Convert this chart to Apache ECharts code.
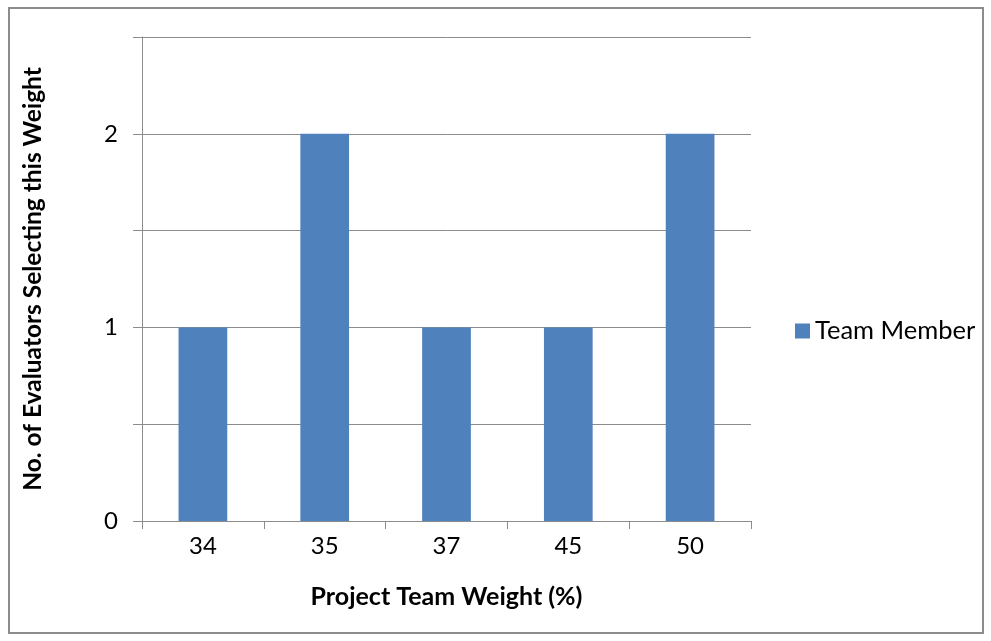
<!DOCTYPE html>
<html>
<head>
<meta charset="utf-8">
<script src="https://cdn.jsdelivr.net/npm/echarts@6/dist/echarts.min.js"></script>
<style>
  html, body { margin: 0; padding: 0; background: #fff; }
  #frame { position: absolute; left: 8px; top: 7px; width: 976px; height: 627px; border: 2px solid #8c8c8c; box-sizing: border-box; }
  #chart { position: absolute; left: 0; top: 0; width: 991px; height: 641px; }
</style>
</head>
<body>
<div id="frame"></div>
<div id="chart"></div>
<script>
// Project team weight choices and how many evaluators picked each
const weights = ['34', '35', '37', '45', '50'];
const evaluatorCounts = [1, 2, 1, 1, 2];
const seriesName = 'Team Member';
const yTickLabels = [0, 1, 2];

const FONT = 'Lato, "Open Sans", sans-serif';
const chart = echarts.init(document.getElementById('chart'), null, { renderer: 'canvas' });

chart.setOption({
  animation: false,
  backgroundColor: 'transparent',
  grid: { left: 142, top: 37, right: 240, bottom: 120, containLabel: false },
  legend: {
    data: [seriesName],
    left: 790, top: 313,
    icon: 'rect',
    itemWidth: 15, itemHeight: 15, itemGap: 4,
    textStyle: { fontFamily: FONT, fontSize: 25.5, color: '#000' }
  },
  xAxis: {
    type: 'category',
    data: weights,
    name: 'Project Team Weight (%)',
    nameLocation: 'middle',
    nameGap: 63,
    nameTextStyle: { fontFamily: FONT, fontSize: 25, fontWeight: 'bold', color: '#000' },
    axisLine: { lineStyle: { color: '#8c8c8c', width: 1 } },
    axisTick: { show: true, length: 8, alignWithLabel: false, lineStyle: { color: '#8c8c8c' } },
    axisLabel: { fontFamily: FONT, fontSize: 24, color: '#000', margin: 13 }
  },
  yAxis: {
    type: 'value',
    min: 0, max: 2.5, interval: 0.5,
    name: 'No. of Evaluators Selecting this Weight',
    nameLocation: 'middle',
    nameRotate: 90,
    nameGap: 96,
    nameTextStyle: { fontFamily: FONT, fontSize: 24.5, fontWeight: 'bold', color: '#000' },
    axisLine: { show: true, lineStyle: { color: '#8c8c8c', width: 1 } },
    axisTick: { show: true, length: 9, lineStyle: { color: '#8c8c8c' } },
    axisLabel: {
      fontFamily: FONT, fontSize: 24, color: '#000', margin: 24,
      formatter: v => (yTickLabels.includes(v) ? String(v) : '')
    },
    splitLine: { show: true, lineStyle: { color: '#8c8c8c', width: 1 } }
  },
  series: [{
    name: seriesName,
    type: 'bar',
    data: evaluatorCounts,
    barWidth: '40%',
    itemStyle: { color: '#4f81bd' }
  }]
});
</script>
</body>
</html>
